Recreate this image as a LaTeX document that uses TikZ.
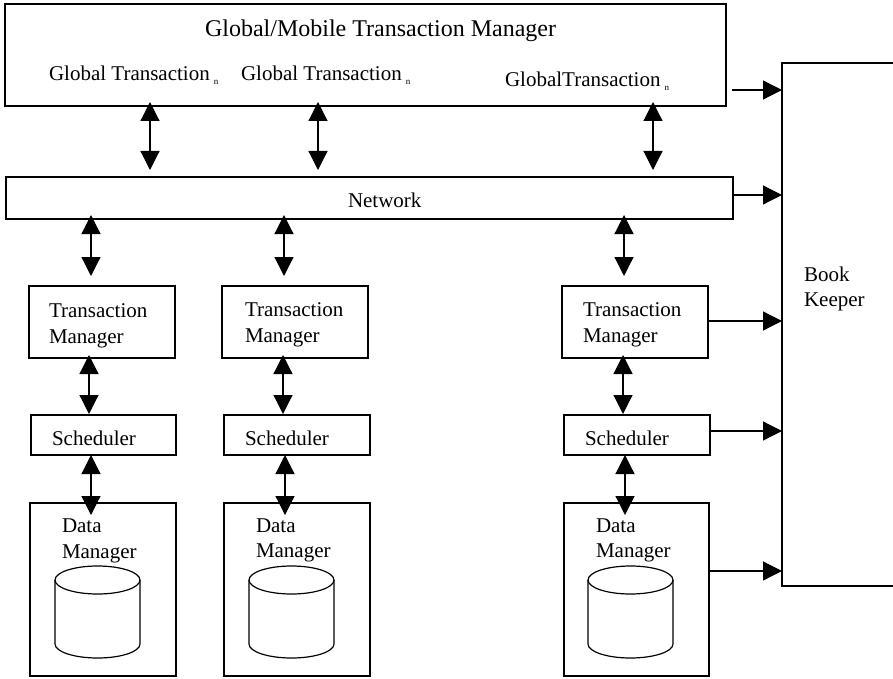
\documentclass[tikz,border=0pt]{standalone}
\usepackage{fontspec}
\setmainfont{Liberation Serif}
\usetikzlibrary{arrows.meta}
\begin{document}
\begin{tikzpicture}[x=1pt,y=-1pt,
  box/.style={draw, line width=1.5pt, inner sep=0pt, outer sep=0pt, anchor=north west},
  lbl/.style={anchor=base west, inner sep=0pt, outer sep=0pt, align=left,
              font=\fontsize{21}{26}\selectfont},
  dbl/.style={line width=1.2pt, {Triangle[length=19pt,width=19pt]}-{Triangle[length=19pt,width=19pt]}},
  sgl/.style={line width=1.2pt, -{Triangle[length=19pt,width=19pt]}},
  cyl/.style={line width=1.2pt},
  dbcyl/.pic={
    \draw[cyl] (0,0) ellipse [x radius=42.5, y radius=14];
    \draw[cyl] (-42.5,0) -- (-42.5,64) .. controls (-42.5,71.7) and (-23.5,78) .. (0,78)
      .. controls (23.5,78) and (42.5,71.7) .. (42.5,64) -- (42.5,0);
  }]
\useasboundingbox (0,0) rectangle (893,679);
\clip (0,0) rectangle (893,679);
\newcommand{\subn}{\hspace{4pt}\raisebox{-4pt}{\fontsize{9}{9}\selectfont n}}

% boxes
\node[box, minimum width=721, minimum height=102] (top) at (5,4) {};
\node[box, minimum width=727, minimum height=42] (net) at (6,177) {};
\node[box, minimum width=135, minimum height=523] (bk) at (782,63) {};

\node[box, minimum width=146, minimum height=72] (tm1) at (29,286) {};
\node[box, minimum width=146, minimum height=72] (tm2) at (222,286) {};
\node[box, minimum width=146, minimum height=72] (tm3) at (562,286) {};

\node[box, minimum width=145, minimum height=40] (sc1) at (31,415) {};
\node[box, minimum width=146, minimum height=40] (sc2) at (224,415) {};
\node[box, minimum width=146, minimum height=40] (sc3) at (564,415) {};

\node[box, minimum width=146, minimum height=173] (dm1) at (30,503) {};
\node[box, minimum width=146, minimum height=173] (dm2) at (224,503) {};
\node[box, minimum width=145, minimum height=173] (dm3) at (564,503) {};

% cylinders
\pic at (97.5,580) {dbcyl};
\pic at (291.5,580) {dbcyl};
\pic at (630.5,580) {dbcyl};

% labels (multi-line labels are placed at the baseline of their last line)
\node[lbl, font=\fontsize{24}{28}\selectfont] (title) at (205,37) {Global/Mobile Transaction Manager};
\node[lbl] (gt1) at (49,81) {Global Transaction\subn};
\node[lbl] (gt2) at (241,81) {Global Transaction\subn};
\node[lbl] (gt3) at (505,86.5) {GlobalTransaction\subn};
\node[lbl] (nettxt) at (348,207) {Network};
\node[lbl, font=\fontsize{21}{25}\selectfont] (bktxt) at (804,306.5) {Book\\Keeper};

\node[lbl] (tm1t) at (49,343) {Transaction\\Manager};
\node[lbl] (tm2t) at (245,342) {Transaction\\Manager};
\node[lbl] (tm3t) at (583,342.5) {Transaction\\Manager};

\node[lbl] (sc1t) at (52,445) {Scheduler};
\node[lbl] (sc2t) at (245,445) {Scheduler};
\node[lbl] (sc3t) at (585,445) {Scheduler};

\node[lbl, font=\fontsize{21}{25.5}\selectfont] (dm1t) at (62,558) {Data\\Manager};
\node[lbl, font=\fontsize{21}{25.5}\selectfont] (dm2t) at (256,557.5) {Data\\Manager};
\node[lbl, font=\fontsize{21}{25.5}\selectfont] (dm3t) at (596,557.5) {Data\\Manager};

% arrow columns
\coordinate (a1) at (150,0); \coordinate (a2) at (318,0); \coordinate (a3) at (653,0);
\coordinate (b1) at (91,0);  \coordinate (b2) at (284,0); \coordinate (b3) at (624,0);
\coordinate (c1) at (89,0);  \coordinate (c2) at (283,0); \coordinate (c3) at (623,0);
\coordinate (d1) at (91,0);  \coordinate (d2) at (285,0); \coordinate (d3) at (625,0);

\draw[dbl, shorten <=-4pt, shorten >=7pt] (top.south -| a1) -- (net.north -| a1);
\draw[dbl, shorten <=-4pt, shorten >=7pt] (top.south -| a2) -- (net.north -| a2);
\draw[dbl, shorten <=-4pt, shorten >=7pt] (top.south -| a3) -- (net.north -| a3);

\draw[dbl, shorten <=-4pt, shorten >=10pt] (net.south -| b1) -- (tm1.north -| b1);
\draw[dbl, shorten <=-4pt, shorten >=10pt] (net.south -| b2) -- (tm2.north -| b2);
\draw[dbl, shorten <=-4pt, shorten >=10pt] (net.south -| b3) -- (tm3.north -| b3);

\draw[dbl, shorten <=-3pt, shorten >=1pt] (tm1.south -| c1) -- (sc1.north -| c1);
\draw[dbl, shorten <=-3pt, shorten >=1pt] (tm2.south -| c2) -- (sc2.north -| c2);
\draw[dbl, shorten <=-3pt, shorten >=1pt] (tm3.south -| c3) -- (sc3.north -| c3);

\draw[dbl, shorten >=-12pt] (sc1.south -| d1) -- (dm1.north -| d1);
\draw[dbl, shorten >=-12pt] (sc2.south -| d2) -- (dm2.north -| d2);
\draw[dbl, shorten >=-12pt] (sc3.south -| d3) -- (dm3.north -| d3);

% arrows to book keeper
\coordinate (h1) at (0,90); \coordinate (h2) at (0,195); \coordinate (h3) at (0,321);
\coordinate (h4) at (0,431); \coordinate (h5) at (0,571);
\draw[sgl, shorten <=6pt] (top.east |- h1) -- (bk.west |- h1);
\draw[sgl] (net.east |- h2) -- (bk.west |- h2);
\draw[sgl] (tm3.east |- h3) -- (bk.west |- h3);
\draw[sgl] (sc3.east |- h4) -- (bk.west |- h4);
\draw[sgl] (dm3.east |- h5) -- (bk.west |- h5);
\end{tikzpicture}
\end{document}
